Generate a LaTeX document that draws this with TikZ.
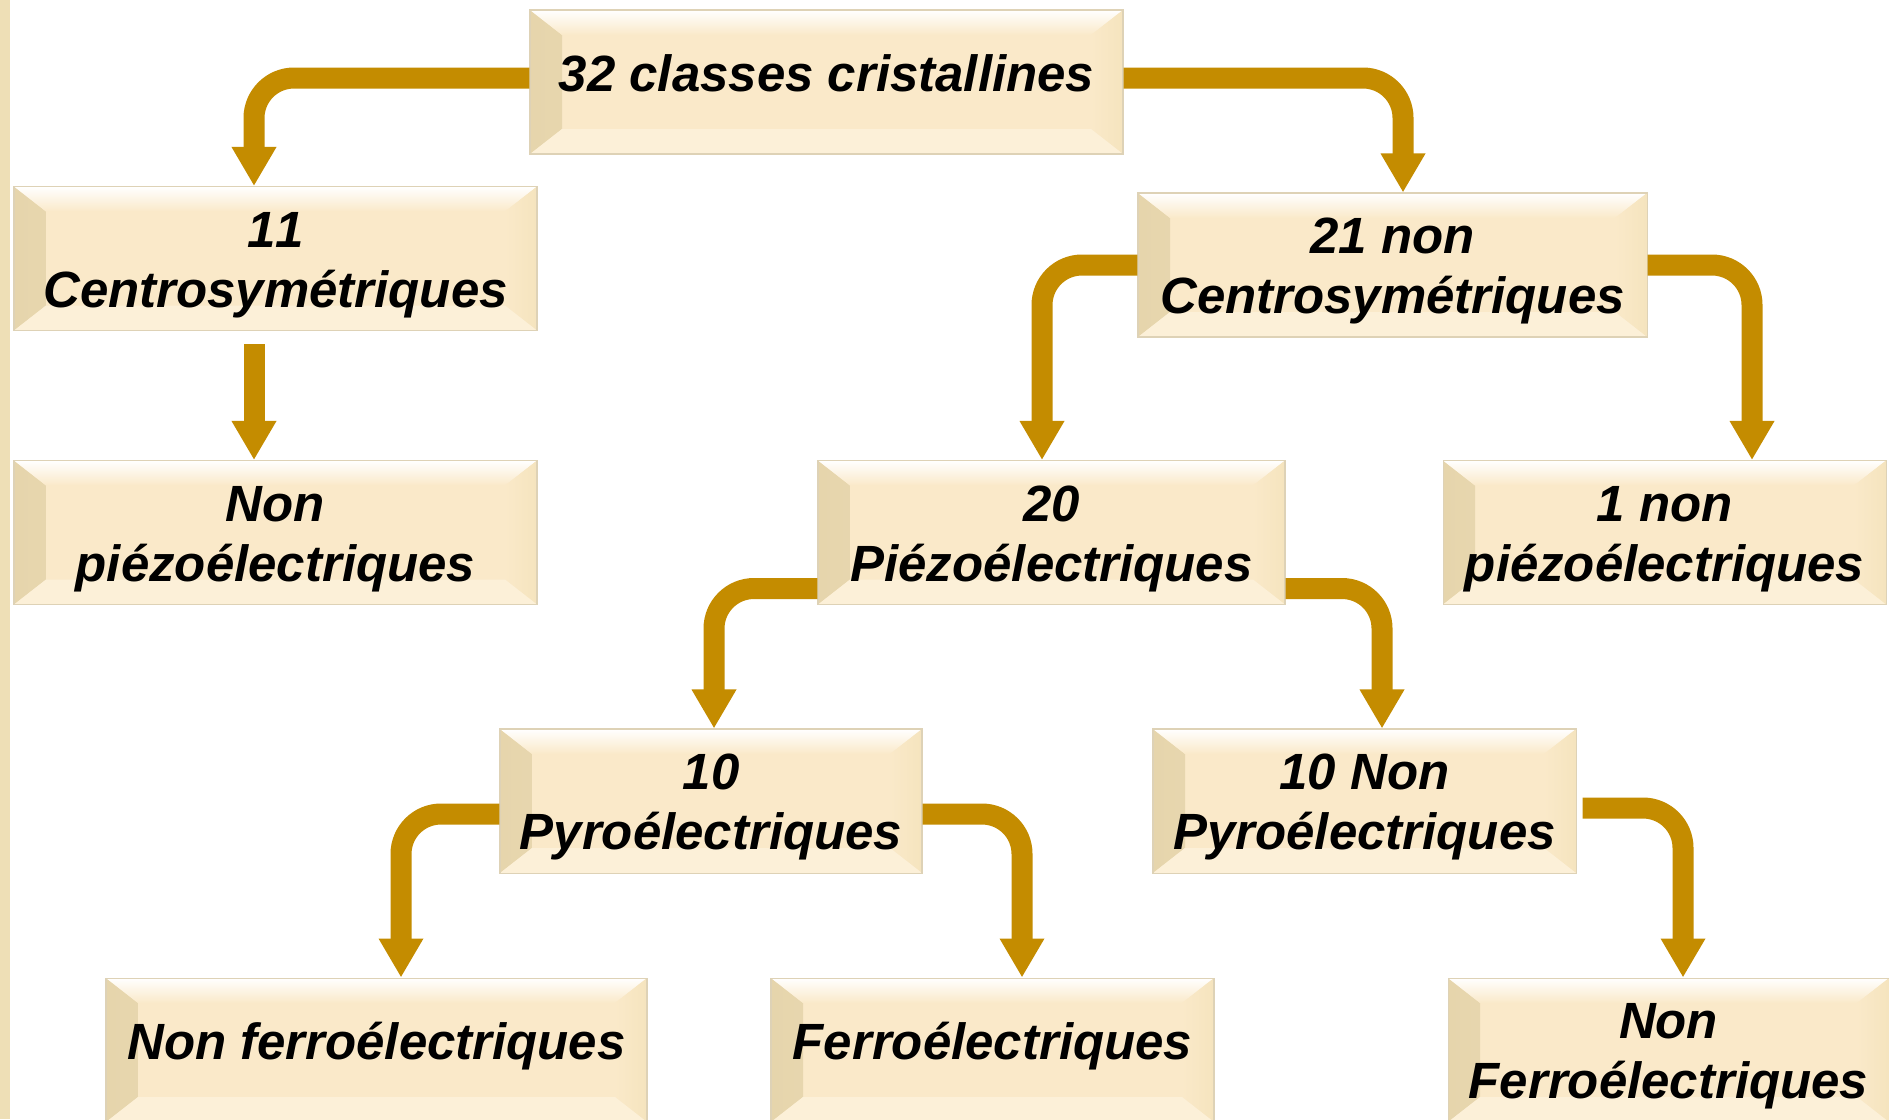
\documentclass[tikz,border=0pt]{standalone}
\usepackage{fontspec}
\setmainfont{Liberation Sans}
\usetikzlibrary{arrows.meta}

\definecolor{boxfill}{RGB}{250,233,201}
\definecolor{bevdark}{RGB}{230,213,172}
\definecolor{bevright}{RGB}{245,228,190}
\definecolor{bevbottom}{RGB}{252,240,216}
\definecolor{boxline}{RGB}{222,210,182}
\definecolor{ochre}{RGB}{196,140,0}
\definecolor{stripcol}{RGB}{238,223,182}

\newcommand{\hautligne}{\rule{0pt}{0.48cm}}

\tikzset{
  classbox/.style={minimum height=1.44cm, inner sep=0pt, align=center, fill=boxfill, draw=boxline, line width=0.3pt,
    font=\fontsize{14.5}{17}\selectfont\bfseries\itshape,
    path picture={
      % biseau gauche
      \shade[left color=bevdark, right color=boxfill] (path picture bounding box.north west) -- ([shift={(0.32,-0.25)}]path picture bounding box.north west) -- ([shift={(0.32,0.25)}]path picture bounding box.south west) -- (path picture bounding box.south west) -- cycle;
      % biseau haut
      \shade[top color=white, bottom color=boxfill] (path picture bounding box.north west) -- (path picture bounding box.north east) -- ([shift={(-0.32,-0.25)}]path picture bounding box.north east) -- ([shift={(0.32,-0.25)}]path picture bounding box.north west) -- cycle;
      % biseau droit
      \shade[left color=boxfill, right color=bevright] (path picture bounding box.north east) -- ([shift={(-0.32,-0.25)}]path picture bounding box.north east) -- ([shift={(-0.32,0.25)}]path picture bounding box.south east) -- (path picture bounding box.south east) -- cycle;
      % biseau bas
      \fill[bevbottom] (path picture bounding box.south west) -- ([shift={(0.32,0.25)}]path picture bounding box.south west) -- ([shift={(-0.32,0.25)}]path picture bounding box.south east) -- (path picture bounding box.south east) -- cycle;
    }},
  oneline/.style={text height=0.38cm, text depth=0.20cm},
  flow/.style={draw=ochre, line width=0.21cm, rounded corners=0.4cm, -{Triangle[length=0.39cm,width=0.42cm]}}
}

\begin{document}
\begin{tikzpicture}
\useasboundingbox (0,0) rectangle (18.89,-11.19);
\fill[white] (0,0) rectangle (18.89,-11.19);
\fill[stripcol] (0,0) rectangle (0.1,-11.19); %bande

% niveau 1
\node[classbox, oneline, minimum width=5.93cm] (classes) at (8.265,-0.82) {32 classes cristallines};

% niveau 2
\node[classbox, minimum width=5.23cm] (centro) at (2.755,-2.585) {\hautligne 1\kern0pt 1\\Centrosymétriques};
\node[classbox, minimum width=5.09cm] (noncentro) at (13.925,-2.65) {\hautligne 21 non\\Centrosymétriques};

% niveau 3
\node[classbox, minimum width=5.23cm] (nonpiezoL) at (2.755,-5.325) {\hautligne Non\\piézoélectriques};
\node[classbox, minimum width=4.67cm] (piezo) at (10.515,-5.325) {\hautligne 20\\Piézoélectriques};
\node[classbox, minimum width=4.43cm] (nonpiezoR) at (16.645,-5.325) {\hautligne 1 non\\piézoélectriques};

% niveau 4
\node[classbox, minimum width=4.22cm] (pyro) at (7.11,-8.01) {\hautligne 10\\Pyroélectriques};
\node[classbox, minimum width=4.23cm] (nonpyro) at (13.645,-8.01) {\hautligne 10 Non\\Pyroélectriques};

% niveau 5
\node[classbox, oneline, minimum width=5.41cm] (nonferroL) at (3.765,-10.50) {Non ferroélectriques};
\node[classbox, oneline, minimum width=4.43cm] (ferro) at (9.925,-10.50) {Ferroélectriques};
\node[classbox, minimum width=4.41cm] (nonferroR) at (16.685,-10.50) {\hautligne Non\\Ferroélectriques};

% fleches
\draw[flow] ([yshift=0.04cm]classes.west) -| ([xshift=-0.215cm]centro.north);
\draw[flow] ([yshift=0.04cm]classes.east) -| ([xshift=0.105cm]noncentro.north);
\draw[flow] ([xshift=-0.215cm,yshift=-0.13cm]centro.south) -- ([xshift=-0.215cm]nonpiezoL.north);
\draw[flow] (noncentro.west) -| ([xshift=-0.095cm]piezo.north);
\draw[flow] (noncentro.east) -| ([xshift=0.875cm]nonpiezoR.north);
\draw[flow] ([yshift=-0.56cm]piezo.west) -| ([xshift=0.03cm]pyro.north);
\draw[flow] ([yshift=-0.56cm]piezo.east) -| ([xshift=0.175cm]nonpyro.north);
\draw[flow] ([yshift=-0.13cm]pyro.west) -| ([xshift=0.245cm]nonferroL.north);
\draw[flow] ([yshift=-0.13cm]pyro.east) -| ([xshift=0.295cm]ferro.north);
\draw[flow] ([xshift=0.06cm,yshift=-0.07cm]nonpyro.east) -| ([xshift=0.145cm]nonferroR.north);

\end{tikzpicture}
\end{document}
